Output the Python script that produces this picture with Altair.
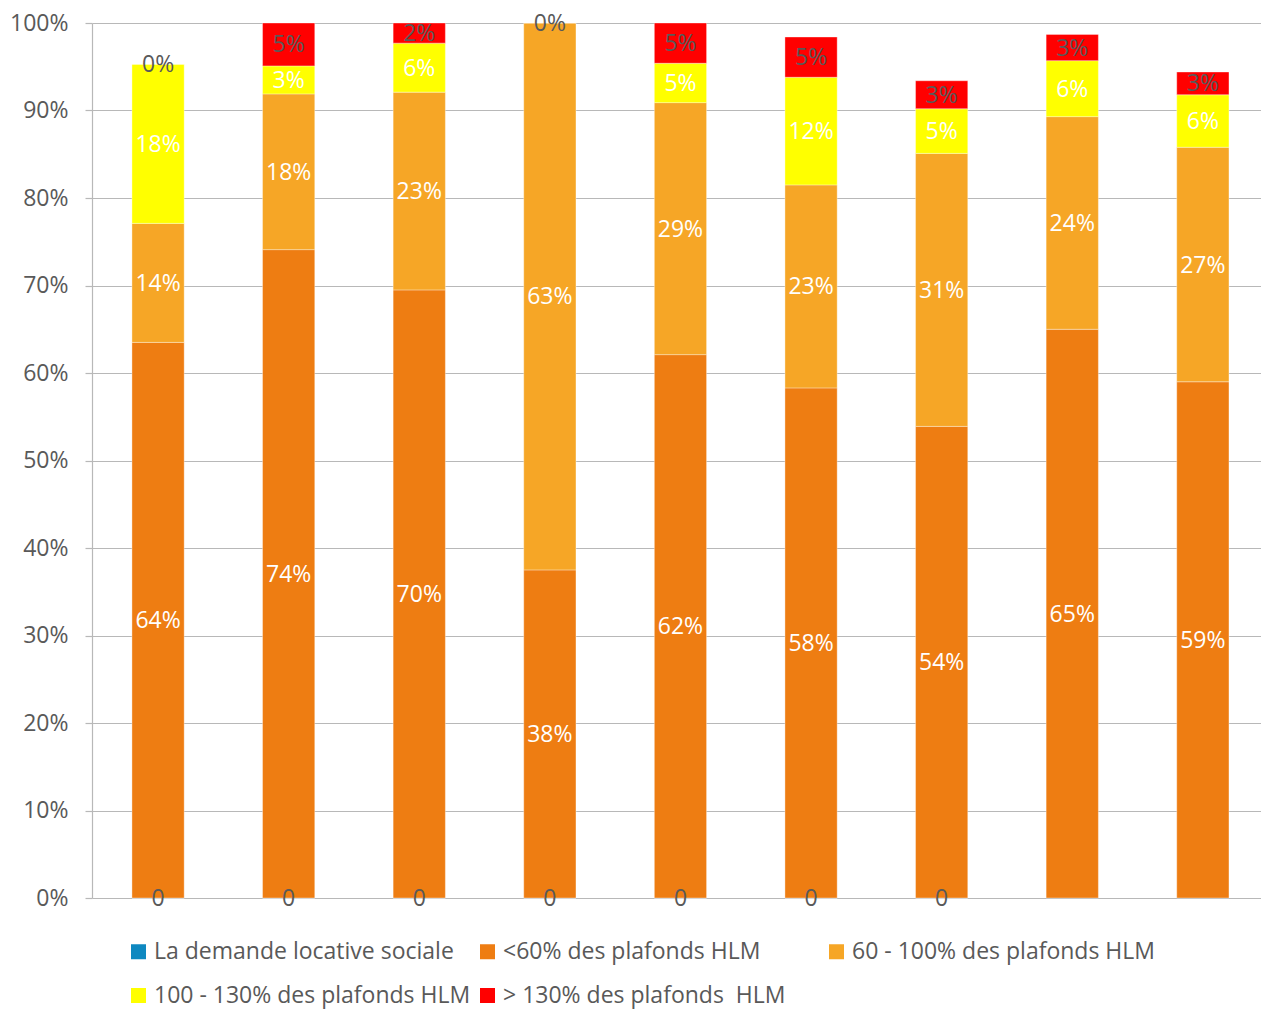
import altair as alt
import pandas as pd

cats = ["1", "2", "3", "4", "5", "6", "7", "8", "9"]
series_names = [
    "La demande locative sociale",
    "<60% des plafonds HLM",
    "60 - 100% des plafonds HLM",
    "100 - 130% des plafonds HLM",
    "> 130% des plafonds\u00a0 HLM",
]
demande = [0, 0, 0, 0, 0, 0, 0, None, None]
lt60 = [63.5, 74.1, 69.5, 37.5, 62.1, 58.3, 53.9, 65.0, 59.0]
p60_100 = [13.6, 17.8, 22.6, 62.5, 28.8, 23.2, 31.2, 24.3, 26.8]
p100_130 = [18.2, 3.2, 5.6, None, 4.5, 12.3, 5.1, 6.4, 6.0]
gt130 = [0, 4.9, 2.3, 0, 4.6, 4.6, 3.2, 3.0, 2.6]
colors = ["#0E88C0", "#EE7D12", "#F6A626", "#FFFF00", "#FF0000"]
y_ticks = [0, 10, 20, 30, 40, 50, 60, 70, 80, 90, 100]

all_series = [demande, lt60, p60_100, p100_130, gt130]
rows = []
for i, c in enumerate(cats):
    for k, vals in enumerate(all_series):
        v = vals[i]
        if v is None:
            continue
        rows.append({"cat": c, "series": series_names[k], "order": k, "value": v})
df = pd.DataFrame(rows)

GRAY = "#595959"
LINE = "#B8B8B8"

base = alt.Chart(df).transform_stack(
    stack="value", groupby=["cat"], sort=[alt.SortField("order")], as_=["y0", "y1"]
).transform_calculate(
    mid="(datum.y0 + datum.y1) / 2",
    lbl="datum.order == 0 ? '0' : (round(datum.value) + '%')",
    tc="(datum.order == 0 || datum.order == 4) ? '%s' : '#FFFFFF'" % GRAY,
)

xenc = alt.X(
    "cat:N",
    sort=cats,
    scale=alt.Scale(paddingInner=0.6, paddingOuter=0.2755, align=0.555),
    axis=alt.Axis(labels=False, ticks=False, domain=False, title=None, grid=False),
)

bars = base.mark_bar(stroke="#FFFFFF", strokeWidth=0.6, strokeOpacity=0.6).encode(
    x=xenc,
    y=alt.Y(
        "y0:Q",
        scale=alt.Scale(domain=[0, 100], nice=False),
        axis=alt.Axis(
            values=y_ticks,
            labelExpr="datum.value + '%'",
            title=None,
            grid=True,
            gridColor=LINE,
            gridWidth=1.2,
            domainColor=LINE,
            domainWidth=1.2,
            tickColor=LINE,
            tickSize=7,
            tickWidth=1.2,
            labelFontSize=23,
            labelColor=GRAY,
            labelPadding=17,
        ),
    ),
    y2="y1:Q",
    color=alt.Color(
        "series:N",
        sort=series_names,
        scale=alt.Scale(domain=series_names, range=colors),
        legend=alt.Legend(
            title=None,
            orient="none",
            legendX=35,
            legendY=917,
            columns=3,
            direction="horizontal",
            gridAlign="all",
            columnPadding=5,
            rowPadding=20,
            symbolType="square",
            symbolSize=225,
            symbolStrokeWidth=0,
            labelFontSize=23,
            labelColor=GRAY,
            labelOffset=4,
            labelLimit=500,
        ),
    ),
)

labels = base.mark_text(fontSize=23, baseline="middle", align="center", dy=1).encode(
    x=xenc,
    y=alt.Y("mid:Q"),
    text="lbl:N",
    color=alt.Color("tc:N", scale=None),
)

chart = (
    alt.layer(bars, labels)
    .properties(
        width=1169,
        height=875,
        autosize=alt.AutoSizeParams(type="none"),
        padding={"left": 92, "top": 23, "right": 0, "bottom": 113},
    )
    .configure(font="Open Sans")
    .configure_view(stroke=None)
)

chart.save("out.html", embed_options={"renderer": "svg", "actions": False})
